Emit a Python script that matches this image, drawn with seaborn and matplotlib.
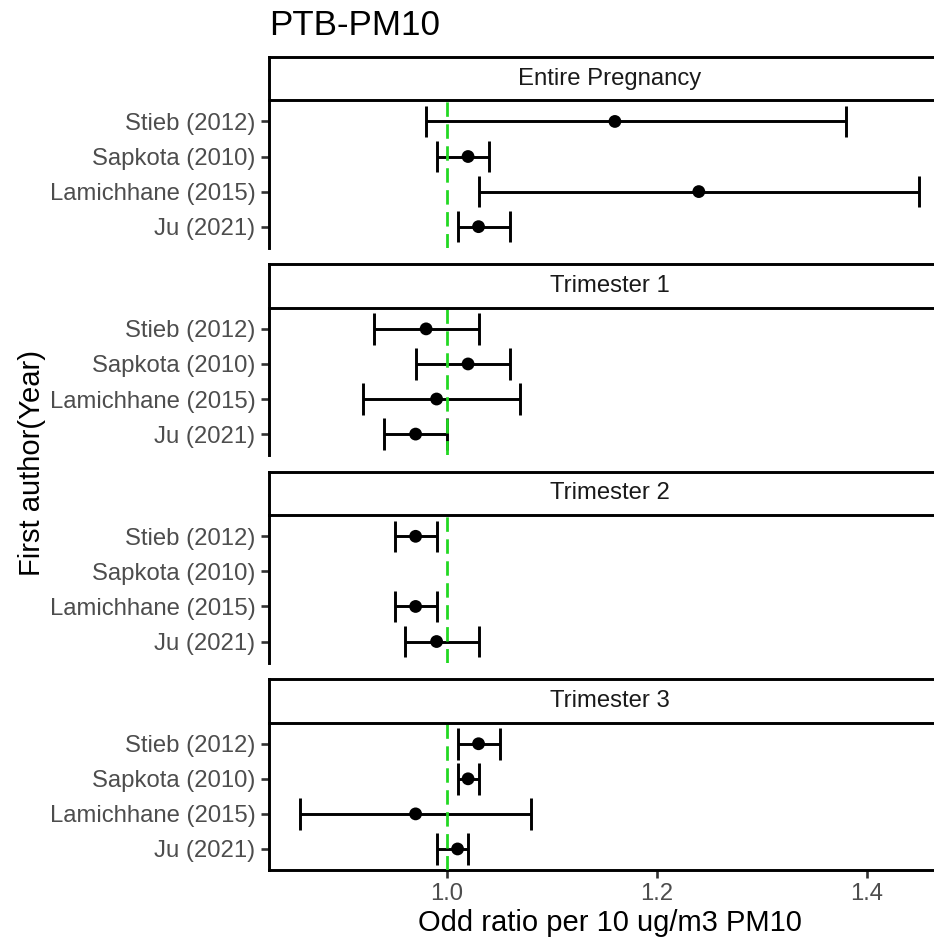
import numpy as np
import pandas as pd
import matplotlib
matplotlib.use("Agg")
import matplotlib.pyplot as plt
import seaborn as sns

# ---------------- data ----------------
authors = ["Stieb (2012)", "Sapkota (2010)", "Lamichhane (2015)", "Ju (2021)"]
windows = ["Entire Pregnancy", "Trimester 1", "Trimester 2", "Trimester 3"]

or_entire = [1.16, 1.02, 1.24, 1.03]
lo_entire = [0.98, 0.99, 1.03, 1.01]
hi_entire = [1.38, 1.04, 1.45, 1.06]

or_t1 = [0.98, 1.02, 0.99, 0.97]
lo_t1 = [0.93, 0.97, 0.92, 0.94]
hi_t1 = [1.03, 1.06, 1.07, 1.00]

or_t2 = [0.97, np.nan, 0.97, 0.99]
lo_t2 = [0.95, np.nan, 0.95, 0.96]
hi_t2 = [0.99, np.nan, 0.99, 1.03]

or_t3 = [1.03, 1.02, 0.97, 1.01]
lo_t3 = [1.01, 1.01, 0.86, 0.99]
hi_t3 = [1.05, 1.03, 1.08, 1.02]

x_ticks = [1.0, 1.2, 1.4]
ref_value = 1.0

title = "PTB-PM10"
x_title = "Odd ratio per 10 ug/m3 PM10"
y_title = "First author(Year)"

series = {
    "Entire Pregnancy": (or_entire, lo_entire, hi_entire),
    "Trimester 1": (or_t1, lo_t1, hi_t1),
    "Trimester 2": (or_t2, lo_t2, hi_t2),
    "Trimester 3": (or_t3, lo_t3, hi_t3),
}
rows = []
for w in windows:
    o, l, h = series[w]
    for i, a in enumerate(authors):
        rows.append(dict(window=w, author=a, ypos=len(authors) - i,
                         OR=o[i], lo=l[i], hi=h[i]))
df = pd.DataFrame(rows)

# ---------------- style ----------------
sns.set_style("white")
plt.rcParams["font.family"] = ["Liberation Sans", "DejaVu Sans"]

W, H = 934, 942
DPI = 100
fig = plt.figure(figsize=(W / DPI, H / DPI), dpi=DPI)

# data range with ggplot-like 5% expansion
dmin = np.nanmin(df["lo"]); dmax = np.nanmax(df["hi"])
pad = 0.05 * (dmax - dmin)
xlim = (dmin - pad, dmax + pad)

left_px = 269.3
right_px = 950.0
top_px = 56.7
bottom_px = 870.0
strip_h = 43.7
panel_h = 147.3
n = len(windows)
gap = (bottom_px - top_px - n * (strip_h + panel_h)) / (n - 1)

def fx(px):
    return px / W

def fy(px):
    return 1 - px / H

green = "#22D822"
lw_axis = 2.1
lw_bar = 2.1
base = 21.0

for k, w in enumerate(windows):
    s_top = top_px + k * (strip_h + panel_h + gap)
    s_bot = s_top + strip_h
    p_bot = s_bot + panel_h
    ax = fig.add_axes([fx(left_px), fy(p_bot), fx(right_px - left_px), panel_h / H])
    sub = df[df["window"] == w]

    # error bars
    ax.hlines(sub["ypos"], sub["lo"], sub["hi"], color="black", lw=lw_bar, zorder=2)
    ax.vlines(sub["lo"], sub["ypos"] - 0.45, sub["ypos"] + 0.45, color="black", lw=lw_bar, zorder=2)
    ax.vlines(sub["hi"], sub["ypos"] - 0.45, sub["ypos"] + 0.45, color="black", lw=lw_bar, zorder=2)
    ax.axvline(ref_value, color=green, lw=2.0, ls=(0, (5.2, 2.7)), zorder=3)
    sns.scatterplot(data=sub, x="OR", y="ypos", ax=ax, color="black", s=85,
                    edgecolor="none", zorder=4, legend=False)

    ax.set_xlim(*xlim)
    ax.set_ylim(0.4, len(authors) + 0.6)
    ax.set_yticks(list(range(len(authors), 0, -1)))
    ax.set_yticklabels(authors)
    ax.set_xlabel(""); ax.set_ylabel("")
    for sp in ["top", "right"]:
        ax.spines[sp].set_visible(False)
    ax.spines["left"].set_linewidth(lw_axis)
    ax.spines["left"].set_color("black")
    ax.tick_params(axis="y", length=5.8, width=1.9, color="#333333", pad=4.3,
                   labelsize=base * 0.82, labelcolor="#4D4D4D", left=True)
    if k == n - 1:
        ax.spines["bottom"].set_linewidth(lw_axis)
        ax.spines["bottom"].set_color("black")
        ax.set_xticks(x_ticks)
        ax.set_xticklabels([f"{t:.1f}" for t in x_ticks])
        ax.tick_params(axis="x", length=5.8, width=1.9, color="#333333", pad=3.5,
                       labelsize=base * 0.82, labelcolor="#4D4D4D", bottom=True)
    else:
        ax.spines["bottom"].set_visible(False)
        ax.set_xticks([])
    ax.set_facecolor("white")

    # strip
    sax = fig.add_axes([fx(left_px), fy(s_bot), fx(right_px - left_px), strip_h / H])
    sax.set_xticks([]); sax.set_yticks([])
    sax.set_facecolor("white")
    for sp in sax.spines.values():
        sp.set_visible(True)
        sp.set_linewidth(lw_axis)
        sp.set_color("black")
    sax.text(0.5, 0.5, w, ha="center", va="center", fontsize=base * 0.82,
             color="#1A1A1A", transform=sax.transAxes)

# titles
fig.text(fx(left_px), fy(35), title, ha="left", va="baseline", fontsize=base * 1.2,
         color="black")
fig.text(fx((left_px + right_px) / 2), fy(923), x_title, ha="center", va="center",
         fontsize=base, color="black")
fig.text(fx(32), fy((top_px + bottom_px) / 2), y_title, ha="center", va="center",
         rotation=90, fontsize=base, color="black")

fig.savefig("out.png", dpi=DPI, facecolor="white")
